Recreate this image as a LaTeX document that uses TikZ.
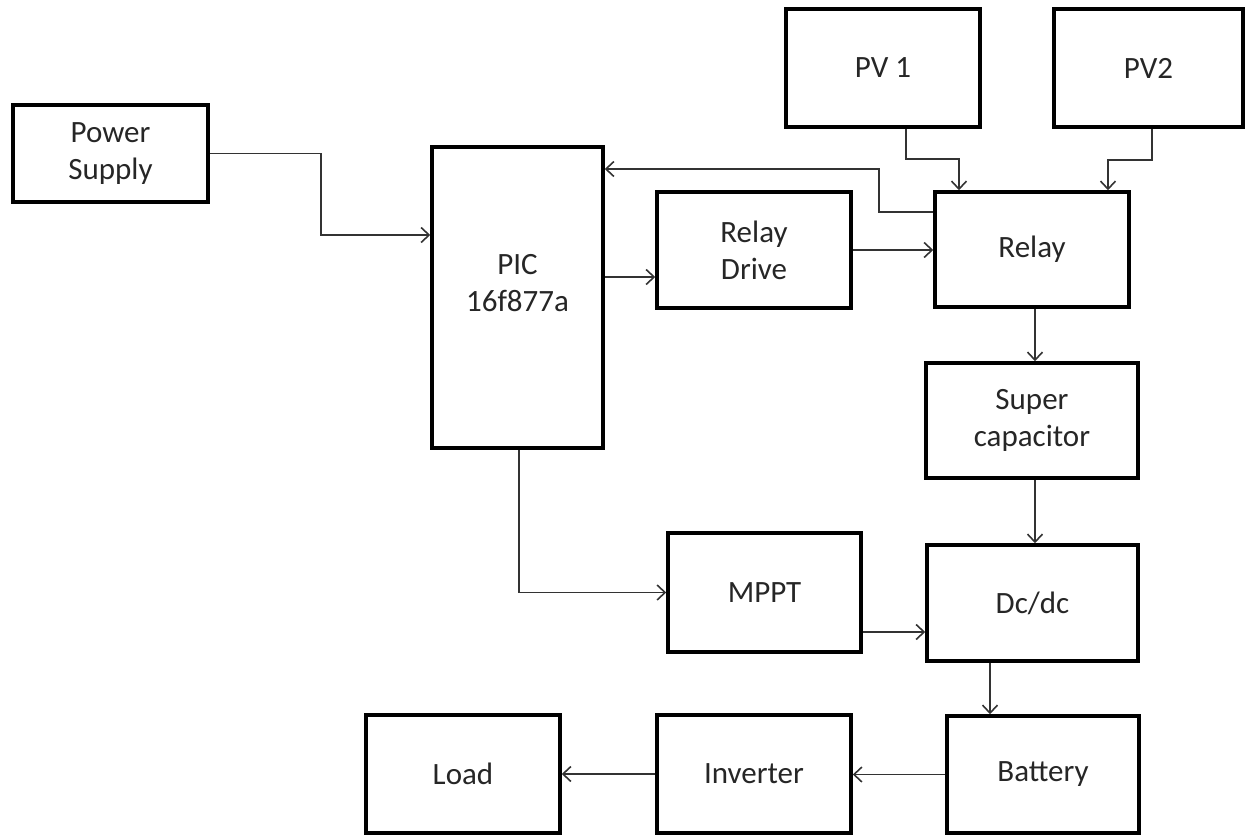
\documentclass[tikz,border=0pt]{standalone}
\usepackage{fontspec}
\setmainfont{Carlito}
\usetikzlibrary{arrows.meta}
\tikzset{
  blk/.style={draw=black, line width=3.5pt, rectangle, align=center, inner sep=0pt,
    font=\fontsize{31}{37}\selectfont, text=black!85},
  arr/.style={draw=black!80, line width=1.8pt, -{Straight Barb[length=8pt,width=15pt,line width=1.6pt]}}
}
\begin{document}
\begin{tikzpicture}[x=1pt,y=-1pt]
\useasboundingbox (0,0) rectangle (1245,835);
% boxes
\node[blk, minimum width=195pt, minimum height=97pt] (ps) at (110.5,153.5) {Power\\Supply};
\node[blk, minimum width=171pt, minimum height=301pt] (pic) at (517.5,297.5) {PIC\\16f877a\\[-7pt]};
\node[blk, minimum width=194pt, minimum height=116pt] (rd) at (754,250) {Relay\\Drive};
\node[blk, minimum width=194pt, minimum height=115pt] (relay) at (1032,249.5) {Relay};
\node[blk, minimum width=194pt, minimum height=118pt] (pv1) at (883,68) {PV 1};
\node[blk, minimum width=189pt, minimum height=118pt] (pv2) at (1148.5,68) {PV2};
\node[blk, minimum width=212pt, minimum height=115pt] (sc) at (1032,420.5) {Super\\capacitor};
\node[blk, minimum width=211pt, minimum height=116pt] (dc) at (1032.5,603) {Dc/dc};
\node[blk, minimum width=193pt, minimum height=119pt] (mppt) at (764.5,592.5) {MPPT};
\node[blk, minimum width=192pt, minimum height=117pt] (bat) at (1043,774.5) {Battery};
\node[blk, minimum width=194pt, minimum height=118pt] (inv) at (754,774) {Inverter};
\node[blk, minimum width=194pt, minimum height=118pt] (load) at (463,774) {Load};
% helper coordinates
\coordinate (psbend) at (321,153.5);
\coordinate (picin) at ([yshift=62.5pt]pic.west);
\coordinate (rdin) at ([yshift=-27pt]rd.west);
\coordinate (fbout) at ([yshift=37.5pt]relay.west);
\coordinate (fb) at (879,169);
\coordinate (k1) at (959,159);
\coordinate (k2) at (1108,160);
\coordinate (rlout) at ([xshift=3pt]relay.south);
\coordinate (scout) at ([xshift=3pt]sc.south);
\coordinate (picout) at ([xshift=1.5pt]pic.south);
\coordinate (mpout) at ([yshift=-39.5pt]mppt.east);
\coordinate (dcout) at ([xshift=-42.5pt]dc.south);
% connectors
\draw[arr] (ps.east) -- (psbend) |- (picin);
\draw[arr] (pic.east |- rdin) -- (rdin);
\draw[arr] (rd.east) -- (relay.west |- rd.east);
\draw[arr] (fbout) -| (fb) -- (pic.east |- fb);
\draw[arr] ([xshift=23pt]pv1.south) |- (k1) -- (k1 |- relay.north);
\draw[arr] ([xshift=3.5pt]pv2.south) |- (k2) -- (k2 |- relay.north);
\draw[arr] (rlout) -- (rlout |- sc.north);
\draw[arr] (scout) -- (scout |- dc.north);
\draw[arr] (picout) |- (mppt.west);
\draw[arr] (mpout) -- (dc.west |- mpout);
\draw[arr] (dcout) -- (dcout |- bat.north);
\draw[arr] (bat.west) -- (inv.east |- bat.west);
\draw[arr] (inv.west) -- (load.east |- inv.west);
\end{tikzpicture}
\end{document}
